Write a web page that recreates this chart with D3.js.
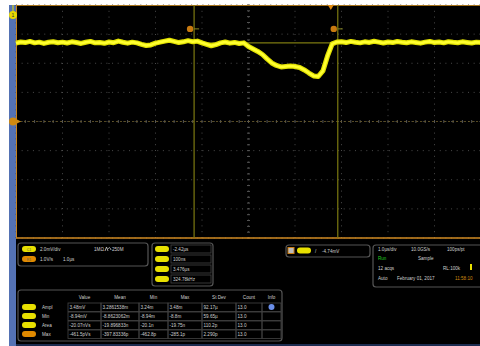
<!DOCTYPE html>
<html><head><meta charset="utf-8">
<script src="https://cdn.jsdelivr.net/npm/d3@7"></script>
<style>
html,body{margin:0;padding:0;background:#fff;}
svg{display:block;}
text{font-family:"Liberation Sans",Arial,sans-serif;}
</style></head>
<body>
<script>
// ---- data ----
const timeStart = -5.0, timeStep = 0.1; // µs
const traceMv = [
 5.38,5.46,5.42,5.50,5.40,5.45,5.36,5.44,5.48,5.41,
 5.45,5.39,5.47,5.42,5.36,5.44,5.50,5.40,5.43,5.37,
 5.46,5.41,5.52,5.44,5.38,5.45,5.40,5.30,5.22,5.26,
 5.38,5.45,5.52,5.58,5.50,5.42,5.47,5.55,5.48,5.52,
 5.40,5.30,5.20,5.28,5.40,5.46,5.38,5.43,5.36,5.40,
 5.15,4.98,4.81,4.60,4.30,4.02,3.85,3.75,3.78,3.81,
 3.78,3.71,3.54,3.33,3.13,3.09,3.47,4.50,5.33,5.46,
 5.48,5.42,5.50,5.44,5.40,5.47,5.43,5.51,5.45,5.39,
 5.46,5.42,5.49,5.44,5.41,5.47,5.43,5.38,5.45,5.50,
 5.42,5.46,5.40,5.48,5.44,5.41,5.47,5.43,5.39,5.45,5.42
];
const cursorTimes = [-1.17, 1.92];
const cursorLevel = 5.4;
const markerLevel = 6.36;
const triggerTime = 1.77;
const xTickDivs = [-5,-4,-3,-2,-1,0,1,2,3,4,5];
const yTickDivs = [-8,-6,-4,-2,0,2,4,6,8];

const chInfo = [["2.0mV/div","1MΩ","250M"],["1.0V/s","1.0µs"]];
const cursorReadouts = ["-2.42µs","100ns","3.476µs","324.78kHz"];
const triggerLevel = "-4.74mV";
const acqRows = [["1.0µs/div","10.0GS/s","100ps/pt"],["Run","Sample",""],["12 acqs","","RL:100k"],["Auto","February 01, 2017","11:58:10"]];
const measHeaders = ["Value","Mean","Min","Max","St Dev","Count","Info"];
const measNames = ["Ampl","Min","Area","Max"];
const measValue = ["3.48mV","-8.94mV","-20.07nVs","-461.5pVs"];
const measMean = ["3.2861538m","-8.8623062m","-19.896833n","-397.83336p"];
const measMin = ["3.24m","-8.94m","-20.1n","-462.8p"];
const measMax = ["3.48m","-8.8m","-19.75n","-285.1p"];
const measStd = ["92.17µ","59.65µ","110.2p","2.290p"];
const measCount = ["13.0","13.0","13.0","13.0"];

// ---- drawing ----
const W=480,H=346;
const svg=d3.select("body").append("svg").attr("width",W).attr("height",H);
svg.append("rect").attr("width",W).attr("height",H).attr("fill","#fff");
svg.append("rect").attr("x",16).attr("y",5).attr("width",W-16).attr("height",H-5).attr("fill","#000");
svg.append("rect").attr("x",9).attr("y",5).attr("width",7).attr("height",H-5).attr("fill","#5472b4");

const x=d3.scaleLinear([-5,5],[16,481]);
const y=d3.scaleLinear([-8,8],[238,5]);

const g=svg.append("g");
// grid dotted
g.selectAll(".vg").data(xTickDivs).join("line").attr("x1",d=>x(d)).attr("x2",d=>x(d))
 .attr("y1",y(8)).attr("y2",y(-8)).attr("stroke","#4a4a4a").attr("stroke-width",1)
 .attr("stroke-dasharray","1,4.8");
g.selectAll(".hg").data(yTickDivs).join("line").attr("x1",x(-5)).attr("x2",x(5))
 .attr("y1",d=>y(d)).attr("y2",d=>y(d)).attr("stroke","#4a4a4a").attr("stroke-width",1)
 .attr("stroke-dasharray","1,4.65");
// center ticks
const minorX=d3.range(-5,5.001,0.2), minorY=d3.range(-8,8.001,0.4);
g.selectAll(".mx").data(minorX).join("line").attr("x1",d=>x(d)).attr("x2",d=>x(d))
 .attr("y1",y(0)-1.5).attr("y2",y(0)+1.5).attr("stroke","#555");
g.selectAll(".my").data(minorY).join("line").attr("y1",d=>y(d)).attr("y2",d=>y(d))
 .attr("x1",x(0)-1.5).attr("x2",x(0)+1.5).attr("stroke","#555");
// orange border
g.append("line").attr("x1",16).attr("x2",W).attr("y1",5.5).attr("y2",5.5).attr("stroke","#a8741c").attr("stroke-width",1);
g.append("line").attr("x1",16).attr("x2",W).attr("y1",238).attr("y2",238).attr("stroke","#d08a22").attr("stroke-width",1.5);
g.append("line").attr("x1",16.5).attr("x2",16.5).attr("y1",5).attr("y2",238).attr("stroke","#c8841e").attr("stroke-width",1);
g.append("line").attr("x1",16).attr("x2",W).attr("y1",y(0)).attr("y2",y(0)).attr("stroke","#6a5a2a").attr("stroke-width",0.8).attr("stroke-dasharray","2,2");

// cursors
g.selectAll(".cur").data(cursorTimes).join("line").attr("x1",d=>x(d)).attr("x2",d=>x(d))
 .attr("y1",y(8)).attr("y2",y(-8)).attr("stroke","#7d7a10").attr("stroke-width",1.2);
g.append("line").attr("x1",x(cursorTimes[0])).attr("x2",x(cursorTimes[1]))
 .attr("y1",y(cursorLevel)).attr("y2",y(cursorLevel)).attr("stroke","#7d7a10").attr("stroke-width",1.2);

// trace
const pts=traceMv.map((v,i)=>[timeStart+i*timeStep,v]);
const line=d3.line().x(d=>x(d[0])).y(d=>y(d[1])).curve(d3.curveLinear);
svg.append("defs").append("filter").attr("id","bl").append("feGaussianBlur").attr("stdDeviation",0.6);
g.append("path").attr("d",line(pts)).attr("fill","none").attr("stroke","#e0e000").attr("stroke-width",5)
 .attr("stroke-linejoin","round").attr("filter","url(#bl)");
g.append("path").attr("d",line(pts)).attr("fill","none").attr("stroke","#ffff30").attr("stroke-width",2.6)
 .attr("stroke-linejoin","round");

// markers
cursorTimes.forEach(t=>{
  g.append("circle").attr("cx",x(t)-4).attr("cy",y(markerLevel)).attr("r",3.2).attr("fill","#c87a10");
  g.append("line").attr("x1",x(t)).attr("x2",x(t)+5).attr("y1",y(markerLevel)).attr("y2",y(markerLevel)).attr("stroke","#8a8a20").attr("stroke-width",1);
});
g.append("path").attr("d",`M${x(triggerTime)-3},5 L${x(triggerTime)+3},5 L${x(triggerTime)},10 Z`).attr("fill","#e08a10");
// channel markers
g.append("line").attr("x1",13).attr("x2",13).attr("y1",5).attr("y2",12).attr("stroke","#e8e000");
g.append("circle").attr("cx",13).attr("cy",15).attr("r",4).attr("fill","#e8d800");
g.append("text").attr("x",13).attr("y",17).attr("text-anchor","middle").attr("font-size",5).attr("fill","#333").text("1");
g.append("circle").attr("cx",13).attr("cy",y(0)).attr("r",4).attr("fill","#d08a10");
g.append("path").attr("d",`M17,${y(0)-2} L21,${y(0)} L17,${y(0)+2} Z`).attr("fill","#d08a10");

// ---- bottom panel ----
const p=svg.append("g");
const fs=4.6, tc="#cfcfcf";
function box(x0,y0,w,h){p.append("rect").attr("x",x0).attr("y",y0).attr("width",w).attr("height",h).attr("rx",3).attr("fill","none").attr("stroke","#555").attr("stroke-width",1.2);}
function pill(cx,cy,col,lab){p.append("rect").attr("x",cx-7).attr("y",cy-3).attr("width",14).attr("height",6).attr("rx",3).attr("fill",col);
  p.append("text").attr("x",cx).attr("y",cy+1.5).attr("text-anchor","middle").attr("font-size",3.5).attr("fill","#665").text(lab);}
function txt(x0,y0,s,col,anchor){p.append("text").attr("x",x0).attr("y",y0).attr("font-size",fs).attr("fill",col||tc).attr("text-anchor",anchor||"start").text(s);}

box(18,243,130,23);
pill(29,249,"#e8e000","C1");pill(29,259,"#e08a00","R1");
txt(40,250.5,chInfo[0][0]);txt(94,250.5,chInfo[0][1]);
p.append("path").attr("d","M105,251 L106.5,247 L108,251 M108,249 C109,247 110,247 111,250").attr("fill","none").attr("stroke",tc).attr("stroke-width",0.8);
txt(112,250.5,chInfo[0][2]);
txt(40,260.5,chInfo[1][0]);txt(63,260.5,chInfo[1][1]);

box(152,243,61,43);
cursorReadouts.forEach((s,i)=>{const cy=249+i*10;pill(162,cy,"#e8e000","");
  p.append("rect").attr("x",171).attr("y",cy-4).attr("width",40).attr("height",8).attr("fill","none").attr("stroke","#444").attr("stroke-width",0.8);
  txt(173,cy+1.5,s);});

box(286,245,84,12);
p.append("rect").attr("x",288).attr("y",247.5).attr("width",6).attr("height",6).attr("fill","#bbb").attr("stroke","#c87a10");
pill(304,250.5,"#e8e000","");
txt(315,253,"/","#ddd");txt(322,252.5,triggerLevel);

box(373,245,110,42);
acqRows.forEach((r,i)=>{const yy=250.5+i*9.8;
  txt(378,yy,r[0],i===1?"#22cc22":tc);
  if(r[1]) txt(i===3?397:411+(i===1?7:0),yy,r[1]);
  if(r[2]) txt(i===3?455:(i===2?443:447),yy,r[2],i===3?"#d08a10":tc);});
p.append("rect").attr("x",470).attr("y",264).attr("width",2).attr("height",6).attr("fill","#e8e000");

box(18,290,264,51);
const colX=[68,101,139,168,202,236,262,281];
measHeaders.forEach((h,i)=>txt((colX[i]+colX[i+1])/2,299,h,tc,"middle"));
measNames.forEach((n,r)=>{const cy=307+r*9;
  pill(29,cy,r===3?"#e08a00":"#e8e000","");
  txt(42,cy+1.5,n);
  const vals=[measValue[r],measMean[r],measMin[r],measMax[r],measStd[r],measCount[r],""];
  vals.forEach((v,i)=>{p.append("rect").attr("x",colX[i]).attr("y",cy-4).attr("width",colX[i+1]-colX[i]).attr("height",8.5).attr("fill","none").attr("stroke","#444").attr("stroke-width",0.8);
    if(v) txt(colX[i]+1.5,cy+1.5,v);});
});
p.append("circle").attr("cx",271.5).attr("cy",307).attr("r",3).attr("fill","#6a8ee8");
p.append("line").attr("x1",16).attr("x2",W).attr("y1",345).attr("y2",345).attr("stroke","#1c2c50").attr("stroke-width",2);
</script>
</body></html>
